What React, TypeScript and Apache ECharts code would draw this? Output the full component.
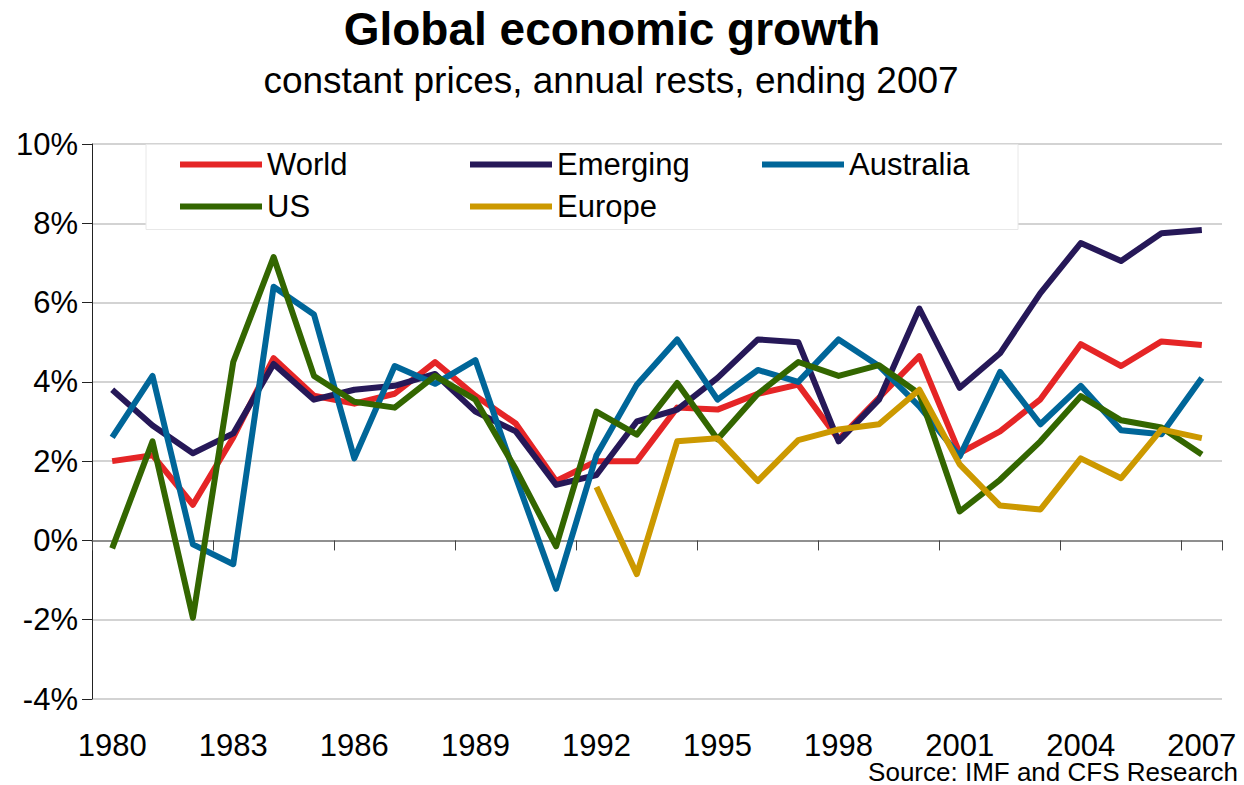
import React, { useEffect, useRef } from "react";
import * as echarts from "echarts";

const years = [
  "1980", "1981", "1982", "1983", "1984", "1985", "1986", "1987", "1988", "1989",
  "1990", "1991", "1992", "1993", "1994", "1995", "1996", "1997", "1998", "1999",
  "2000", "2001", "2002", "2003", "2004", "2005", "2006", "2007",
];

const world = [2.0, 2.15, 0.9, 2.6, 4.6, 3.65, 3.45, 3.7, 4.5, 3.65, 2.95, 1.5, 2.0, 2.0, 3.35, 3.3, 3.7, 3.93, 2.55, 3.6, 4.65, 2.2, 2.75, 3.56, 4.95, 4.4, 5.02, 4.93];
const emerging = [3.8, 2.9, 2.2, 2.7, 4.45, 3.55, 3.8, 3.9, 4.2, 3.25, 2.75, 1.4, 1.65, 3.0, 3.3, 4.1, 5.07, 5.0, 2.5, 3.55, 5.85, 3.85, 4.72, 6.24, 7.5, 7.05, 7.75, 7.83];
const australia = [2.6, 4.15, -0.1, -0.6, 6.4, 5.7, 2.07, 4.4, 3.95, 4.55, 1.6, -1.22, 2.15, 3.93, 5.07, 3.55, 4.3, 4.0, 5.07, 4.4, 3.38, 2.12, 4.25, 2.93, 3.9, 2.78, 2.68, 4.1];
const us = [-0.2, 2.5, -1.95, 4.5, 7.15, 4.15, 3.5, 3.35, 4.15, 3.55, 1.8, -0.15, 3.25, 2.67, 3.97, 2.55, 3.7, 4.5, 4.15, 4.42, 3.7, 0.73, 1.53, 2.5, 3.64, 3.03, 2.85, 2.17];
const europe = [null, null, null, null, null, null, null, null, null, null, null, null, 1.35, -0.85, 2.5, 2.58, 1.5, 2.53, 2.8, 2.93, 3.8, 1.92, 0.88, 0.78, 2.07, 1.57, 2.8, 2.58];

const seriesNames = ["World", "Emerging", "Australia", "US", "Europe"];
const seriesData = [world, emerging, australia, us, europe];
const seriesColors = ["#e52526", "#261858", "#006699", "#336600", "#cc9900"];

const FONT = "Liberation Sans, Arial, Helvetica, sans-serif";

export default function App() {
  const ref = useRef<HTMLDivElement>(null);

  useEffect(() => {
    if (!ref.current) return;
    const chart = echarts.init(ref.current, null, { renderer: "svg" });

    const legendPos = [
      { left: 180, top: 149 },
      { left: 470, top: 149 },
      { left: 762, top: 149 },
      { left: 180, top: 191 },
      { left: 470, top: 191 },
    ];

    const option: any = {
      animation: false,
      backgroundColor: "#ffffff",
      textStyle: { fontFamily: FONT },
      grid: { left: 92, right: 22, top: 144, bottom: 86, containLabel: false },
      legend: seriesNames.map((n, i) => ({
        data: [n],
        left: legendPos[i].left,
        top: legendPos[i].top,
        padding: 0,
        icon: "rect",
        itemWidth: 82,
        itemHeight: 6,
        selectedMode: false,
        textStyle: { fontSize: 31, color: "#000", fontFamily: FONT },
      })),
      xAxis: [
        {
          type: "category",
          data: years,
          boundaryGap: true,
          position: "bottom",
          axisLine: { show: true, onZero: true, lineStyle: { color: "#7a7a7a", width: 1.5 } },
          axisTick: {
            show: true,
            length: 10,
            interval: (i: number) => i % 3 === 0,
            lineStyle: { color: "#444", width: 1 },
          },
          axisLabel: { show: false },
          splitLine: { show: false },
        },
        {
          type: "category",
          data: years,
          boundaryGap: true,
          position: "bottom",
          axisLine: { show: false, onZero: false },
          axisTick: { show: false },
          axisLabel: {
            show: true,
            interval: 2,
            fontSize: 31,
            lineHeight: 31,
            color: "#000",
            fontFamily: FONT,
            margin: 31,
          },
          splitLine: { show: false },
        },
      ],
      yAxis: {
        type: "value",
        min: -4,
        max: 10,
        interval: 2,
        axisLine: { show: true, lineStyle: { color: "#222", width: 1 } },
        axisTick: { show: true, length: 10, lineStyle: { color: "#222" } },
        axisLabel: {
          formatter: "{value}%",
          fontSize: 31,
          color: "#000",
          fontFamily: FONT,
          margin: 14,
        },
        splitLine: { show: true, lineStyle: { color: "#c4c4c4", width: 1.5 } },
      },
      graphic: [
        {
          type: "rect",
          z: 1,
          shape: { x: 146, y: 144.5, width: 872, height: 85 },
          style: { fill: "#ffffff", stroke: "#e8e8e8", lineWidth: 1 },
        },
        {
          type: "text",
          x: 612,
          y: 29,
          style: {
            text: "Global economic growth",
            fontSize: 46,
            fontWeight: "bold",
            fontFamily: FONT,
            fill: "#000",
            align: "center",
            verticalAlign: "middle",
          },
        },
        {
          type: "text",
          x: 611,
          y: 80,
          style: {
            text: "constant prices, annual rests, ending 2007",
            fontSize: 37,
            fontFamily: FONT,
            fill: "#000",
            align: "center",
            verticalAlign: "middle",
          },
        },
        {
          type: "text",
          x: 1238,
          y: 772,
          style: {
            text: "Source: IMF and CFS Research",
            fontSize: 26,
            lineHeight: 24,
            fontFamily: FONT,
            fill: "#000",
            align: "right",
            verticalAlign: "middle",
          },
        },
      ],
      series: seriesNames.map((n, i) => ({
        name: n,
        type: "line",
        xAxisIndex: 0,
        yAxisIndex: 0,
        data: seriesData[i],
        symbol: "none",
        connectNulls: false,
        color: seriesColors[i],
        lineStyle: { width: 6, color: seriesColors[i], join: "round", cap: "butt" },
        z: 3,
      })),
    };

    chart.setOption(option);
    return () => chart.dispose();
  }, []);

  return (
    <div
      ref={ref}
      style={{ position: "fixed", left: 0, top: 0, width: 1244, height: 785, background: "#fff" }}
    />
  );
}
